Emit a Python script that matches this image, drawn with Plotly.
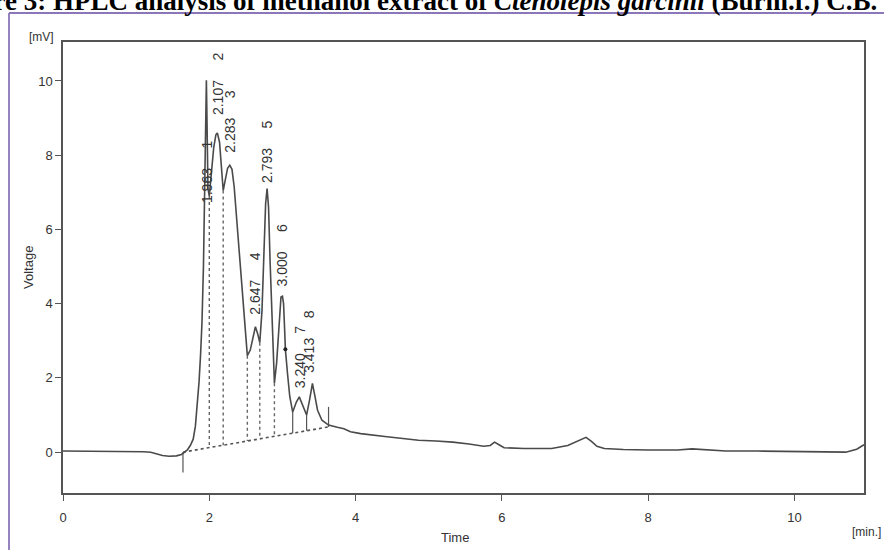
import numpy as np
import plotly.graph_objects as go

# ---------------- data ----------------
time_min = [0.00, 0.30, 0.60, 0.90, 1.10, 1.20, 1.28, 1.36, 1.45, 1.55, 1.62, 1.66,
            1.70, 1.74, 1.78, 1.81, 1.84, 1.86, 1.88, 1.90, 1.92, 1.935, 1.945, 1.955,
            1.960, 1.965, 1.972, 1.982, 2.00, 2.03, 2.06, 2.09, 2.11, 2.14, 2.17, 2.19,
            2.22, 2.25, 2.28, 2.31, 2.34, 2.37, 2.40, 2.43, 2.46, 2.49, 2.52, 2.56,
            2.60, 2.63, 2.66, 2.69, 2.72, 2.745, 2.77, 2.79, 2.81, 2.83, 2.855, 2.875,
            2.89, 2.92, 2.95, 2.98, 3.00, 3.015, 3.03, 3.04, 3.07, 3.10, 3.14, 3.19,
            3.23, 3.27, 3.33, 3.37, 3.41, 3.44, 3.48, 3.54, 3.63, 3.75, 3.84, 3.93,
            4.07, 4.40, 4.60, 4.86, 5.10, 5.33, 5.55, 5.75, 5.84, 5.90, 5.96, 6.03,
            6.30, 6.68, 6.90, 7.05, 7.15, 7.22, 7.30, 7.40, 7.66, 8.00, 8.40, 8.60,
            8.80, 9.06, 9.50, 9.99, 10.40, 10.70, 10.85, 10.95]
voltage_mv = [0.03, 0.03, 0.02, 0.02, 0.01, 0.00, -0.05, -0.09, -0.11, -0.10, -0.06, -0.01,
              0.06, 0.18, 0.35, 0.70, 1.30, 1.90, 2.60, 3.50, 5.00, 6.60, 8.20, 9.60,
              10.02, 9.40, 8.00, 7.10, 6.90, 7.50, 8.20, 8.55, 8.60, 8.35, 7.60, 7.05,
              7.35, 7.65, 7.73, 7.62, 7.15, 6.40, 5.60, 4.80, 4.00, 3.20, 2.60, 2.75,
              3.15, 3.38, 3.20, 2.95, 3.80, 5.40, 6.70, 7.10, 6.60, 5.20, 3.60, 2.30,
              1.86, 2.40, 3.40, 4.18, 4.20, 4.00, 3.30, 2.77, 2.10, 1.50, 1.08, 1.35,
              1.49, 1.30, 1.00, 1.40, 1.85, 1.55, 1.13, 0.86, 0.73, 0.67, 0.63, 0.55,
              0.50, 0.42, 0.37, 0.32, 0.30, 0.27, 0.22, 0.16, 0.18, 0.27, 0.20, 0.12,
              0.10, 0.10, 0.18, 0.30, 0.40, 0.30, 0.16, 0.10, 0.07, 0.06, 0.06, 0.09,
              0.06, 0.03, 0.03, 0.02, 0.00, 0.00, 0.08, 0.20]

# peak table
peak_ids = ["1", "2", "3", "4", "5", "6", "7", "8"]
peak_rt = ["1.963", "2.107", "2.283", "2.647", "2.793", "3.000", "3.240", "3.413"]
peak_label_t = [1.97, 2.12, 2.29, 2.62, 2.79, 3.00, 3.24, 3.37]
peak_label_v = [6.66, 9.03, 8.00, 3.64, 7.20, 4.42, 1.67, 2.07]

# integration baseline (start / end events)
base_t = [1.64, 3.63]
base_v = [0.00, 0.68]
# peak separation drop lines (valleys)
drop_dotted_t = [2.00, 2.19, 2.52, 2.69, 2.89]
drop_dotted_v = [6.90, 7.05, 2.60, 2.95, 1.86]
drop_solid_t = [3.14, 3.33]
drop_solid_v = [1.08, 1.00]
event_marks_t = [1.64, 3.63]
event_marks_v = [-0.55, 1.22]
dot_mark_t = [3.04]
dot_mark_v = [2.77]

x_ticks = [0, 2, 4, 6, 8, 10]
y_ticks = [0, 2, 4, 6, 8, 10]

title_text = ("<b>Figure 3: HPLC analysis of methanol extract of "
              "<i>Ctenolepis garcinii</i> (Burm.f.) C.B. Clarke</b>")

# ---------------- figure ----------------
LINE = "#4a4a4a"
TXT = "#333333"
FONT = "Liberation Sans, Arial, sans-serif"

fig = go.Figure()

fig.add_trace(go.Scatter(x=base_t, y=base_v, mode="lines",
                         line=dict(color="#555", width=1.6, dash="dot"),
                         hoverinfo="skip", showlegend=False))

def base_at(t):
    return float(np.interp(t, base_t, base_v))

dx, dy = [], []
for t, v in zip(drop_dotted_t, drop_dotted_v):
    dx += [t, t, None]
    dy += [v, base_at(t), None]
fig.add_trace(go.Scatter(x=dx, y=dy, mode="lines",
                         line=dict(color="#666", width=1.4, dash="dot"),
                         hoverinfo="skip", showlegend=False))

sx, sy = [], []
for t, v in zip(drop_solid_t, drop_solid_v):
    sx += [t, t, None]
    sy += [v, base_at(t), None]
for t, v in zip(event_marks_t, event_marks_v):
    sx += [t, t, None]
    sy += [base_at(t), v, None]
fig.add_trace(go.Scatter(x=sx, y=sy, mode="lines",
                         line=dict(color="#555", width=1.2),
                         hoverinfo="skip", showlegend=False))

fig.add_trace(go.Scatter(x=time_min, y=voltage_mv, mode="lines",
                         line=dict(color=LINE, width=1.6),
                         hoverinfo="skip", showlegend=False))

fig.add_trace(go.Scatter(x=dot_mark_t, y=dot_mark_v, mode="markers",
                         marker=dict(color="#222", size=4),
                         hoverinfo="skip", showlegend=False))

annotations = []
for pid, rt, t, v in zip(peak_ids, peak_rt, peak_label_t, peak_label_v):
    annotations.append(dict(
        x=t, y=v, xref="x", yref="y", text=rt + "\u00a0" * 5 + pid,
        textangle=-90, showarrow=False, xanchor="center", yanchor="bottom",
        font=dict(family=FONT, size=14, color=TXT)))

L, R, T, B = 63, 20, 42, 57
PW, PH = 884 - L - R, 550 - T - B

def px(xp):
    return (xp - L) / PW

def py(yp):
    return (550 - B - yp) / PH

annotations += [
    dict(x=px(28), y=py(268), xref="paper", yref="paper", text="Voltage",
         xanchor="center", yanchor="middle",
         textangle=-90, showarrow=False, font=dict(family=FONT, size=13, color=TXT)),
    dict(x=px(41), y=py(37), xref="paper", yref="paper", text="[mV]",
         xanchor="center", yanchor="middle",
         showarrow=False, font=dict(family=FONT, size=12, color=TXT)),
    dict(x=px(455), y=py(537), xref="paper", yref="paper", text="Time",
         xanchor="center", yanchor="middle",
         showarrow=False, font=dict(family=FONT, size=13, color=TXT)),
    dict(x=px(866), y=py(532), xref="paper", yref="paper", text="[min.]",
         xanchor="center", yanchor="middle",
         showarrow=False, font=dict(family=FONT, size=12, color=TXT)),
    dict(x=px(-61), y=py(1.5), xref="paper", yref="paper", xanchor="left", yanchor="middle",
         text=title_text, showarrow=False,
         font=dict(family="Liberation Serif, Times New Roman, serif", size=27, color="#000")),
]

shapes = [
    dict(type="line", xref="paper", yref="paper", x0=px(9), x1=px(9), y0=py(13), y1=py(552),
         line=dict(color="#8a76b8", width=1.8)),
    dict(type="line", xref="paper", yref="paper", x0=px(9), x1=px(886), y0=py(13), y1=py(13),
         line=dict(color="#8a76b8", width=1.8)),
]

fig.update_layout(
    width=884, height=550,
    margin=dict(l=L, r=R, t=T, b=B),
    paper_bgcolor="white", plot_bgcolor="white",
    annotations=annotations, shapes=shapes,
    showlegend=False,
    xaxis=dict(range=[0, 10.95], tickvals=x_ticks, ticktext=[str(v) for v in x_ticks],
               showgrid=False, zeroline=False, showline=True, mirror=True,
               linecolor="#555", linewidth=1.5, ticks="outside", ticklen=6,
               ticklabelstandoff=6,
               tickcolor="#555", tickfont=dict(family=FONT, size=13, color=TXT)),
    yaxis=dict(range=[-1.1, 11.05], tickvals=y_ticks, ticktext=[str(v) for v in y_ticks],
               showgrid=False, zeroline=False, showline=True, mirror=True,
               linecolor="#555", linewidth=1.5, ticks="outside", ticklen=6,
               tickcolor="#555", tickfont=dict(family=FONT, size=13, color=TXT)),
)

fig.write_html("out.html", config={"displayModeBar": False},
               post_script="document.body.style.margin='0px';")
